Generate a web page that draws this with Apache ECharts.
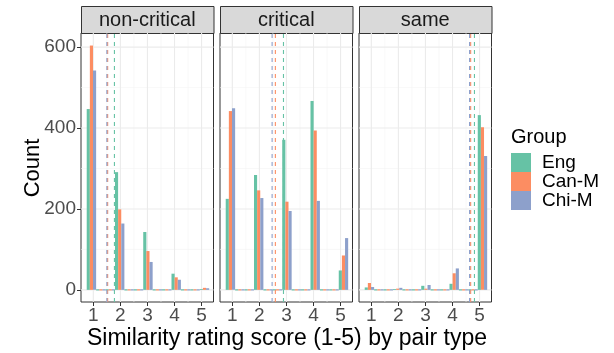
<!DOCTYPE html>
<html><head><meta charset="utf-8">
<script src="https://cdn.jsdelivr.net/npm/echarts@6/dist/echarts.min.js"></script>
<style>html,body{margin:0;padding:0;background:#fff}#c{width:614px;height:353px}</style>
</head><body><div id="c"></div>
<script>
// ---- data ----
const panels = ['non-critical', 'critical', 'same'];
const groups = ['Eng', 'Can-M', 'Chi-M'];
const xTicks = [1, 2, 3, 4, 5];
const xMinor = [1.5, 2.5, 3.5, 4.5];
const yTicks = [0, 200, 400, 600];
const yMinor = [100, 300, 500];

// counts per rating 1..5
const nonCriticalEng = [447, 291, 143, 40, 2];
const nonCriticalCanM = [604, 199, 96, 31, 5];
const nonCriticalChiM = [542, 164, 69, 25, 4];
const criticalEng = [225, 284, 371, 467, 48];
const criticalCanM = [442, 246, 218, 394, 85];
const criticalChiM = [449, 227, 195, 220, 128];
const sameEng = [6, 2, 10, 15, 432];
const sameCanM = [17, 3, 3, 41, 402];
const sameChiM = [7, 5, 12, 53, 331];

// group means (dashed lines): Eng, Can-M, Chi-M
const meanNonCritical = [1.78, 1.53, 1.50];
const meanCritical = [2.89, 2.59, 2.47];
const meanSame = [4.81, 4.67, 4.63];

// histogram binning (data units)
const binStart = 0.756, binWidth = 0.348, binCount = 13, binsPerRating = 3;

// ---- build ----
const countsByPanel = [
  [nonCriticalEng, nonCriticalCanM, nonCriticalChiM],
  [criticalEng, criticalCanM, criticalChiM],
  [sameEng, sameCanM, sameChiM]
];
const meansByPanel = [meanNonCritical, meanCritical, meanSame];
const colors = ['#66C2A5', '#FC8D62', '#8DA0CB'];
const FONT = "'Liberation Sans', Arial, sans-serif";
const gridLefts = [81, 220, 359];
const gridW = 132.5, gridTop = 33, gridH = 269;
const xMin = 0.545, xMax = 5.44, yMin = -30, yMax = 635;
const grids = [], xAxes = [], yAxes = [], series = [], graphics = [];

function barRender(params, api) {
  const x0 = api.value(0), x1 = api.value(1), v = api.value(2);
  const p0 = api.coord([x0, 0]);
  const p1 = api.coord([x1, v]);
  let y = p1[1], h = p0[1] - p1[1];
  if (v === 0) { y = p0[1] - 0.6; h = 1.2; }
  return { type: 'rect', shape: { x: p0[0], y: y, width: p1[0] - p0[0], height: h },
           style: { fill: api.visual('color') } };
}
function lineRender(params, api) {
  const m = api.value(0);
  const a = api.coord([m, yMin]), b = api.coord([m, yMax]);
  return { type: 'line', shape: { x1: a[0], y1: a[1], x2: b[0], y2: b[1] },
           style: { stroke: api.visual('color'), lineWidth: 1.1, lineDash: [4, 4] } };
}
// grid lines: [orientation (0 vertical / 1 horizontal), value, major(1)/minor(0)]
function gridRender(params, api) {
  const kind = api.value(0), v = api.value(1), major = api.value(2);
  const a = kind === 0 ? api.coord([v, yMin]) : api.coord([xMin, v]);
  const b = kind === 0 ? api.coord([v, yMax]) : api.coord([xMax, v]);
  return { type: 'line', shape: { x1: a[0], y1: a[1], x2: b[0], y2: b[1] },
           style: { stroke: major ? '#EBEBEB' : '#F3F3F3', lineWidth: major ? 1.1 : 0.6 } };
}

panels.forEach((p, i) => {
  grids.push({ left: gridLefts[i], top: gridTop, width: gridW, height: gridH,
    show: true, borderColor: '#333333', borderWidth: 1, backgroundColor: '#fff' });
  xAxes.push({ type: 'value', gridIndex: i, min: xMin, max: xMax, position: 'bottom',
    axisLine: { show: false, onZero: false },
    axisTick: { show: true, customValues: xTicks, length: 4, lineStyle: { color: '#333333', width: 1 } },
    axisLabel: { show: true, customValues: xTicks, fontSize: 19, color: '#4D4D4D', margin: 4, fontFamily: FONT },
    splitLine: { show: false } });
  yAxes.push({ type: 'value', gridIndex: i, min: yMin, max: yMax, position: 'left',
    axisLine: { show: false, onZero: false },
    axisTick: { show: i === 0, customValues: yTicks, length: 4, lineStyle: { color: '#333333', width: 1 } },
    axisLabel: { show: i === 0, customValues: yTicks, fontSize: 19, color: '#4D4D4D', margin: 5, fontFamily: FONT },
    splitLine: { show: false } });

  const gridData = xMinor.map(v => [0, v, 0]).concat(yMinor.map(v => [1, v, 0]))
    .concat(xTicks.map(v => [0, v, 1])).concat(yTicks.map(v => [1, v, 1]));
  series.push({ type: 'custom', name: 'grid-lines', xAxisIndex: i, yAxisIndex: i,
    renderItem: gridRender, data: gridData, encode: { x: -1, y: -1 }, clip: true, z: 1, silent: true });

  groups.forEach((g, gi) => {
    const counts = countsByPanel[i][gi];
    const data = [];
    for (let j = 0; j < binCount; j++) {
      const left = binStart + j * binWidth + gi * binWidth / 3;
      const right = left + binWidth / 3;
      const v = (j % binsPerRating === 0) ? counts[j / binsPerRating] : 0;
      data.push([left, right, v]);
    }
    series.push({ type: 'custom', name: g, xAxisIndex: i, yAxisIndex: i,
      renderItem: barRender, itemStyle: { color: colors[gi] }, data: data, clip: true,
      encode: { x: [0, 1], y: 2 }, z: 2, silent: true });
  });
  groups.forEach((g, gi) => {
    series.push({ type: 'custom', name: g, xAxisIndex: i, yAxisIndex: i,
      renderItem: lineRender, itemStyle: { color: colors[gi] }, data: [[meansByPanel[i][gi], 0]],
      encode: { x: 0, y: 1 }, clip: true, z: 3, silent: true });
  });

  graphics.push({ type: 'rect', left: gridLefts[i], top: 6,
    shape: { x: 0, y: 0, width: gridW, height: 27 },
    style: { fill: '#D9D9D9', stroke: '#333333', lineWidth: 1 } });
  graphics.push({ type: 'text', x: gridLefts[i] + gridW / 2, y: 20,
    style: { text: p, font: '20px ' + FONT, fill: '#1A1A1A', textAlign: 'center', textVerticalAlign: 'middle' } });
});

graphics.push({ type: 'text', x: 33, y: 168, rotation: Math.PI / 2,
  style: { text: 'Count', font: '22px ' + FONT, fill: '#000', textAlign: 'center', textVerticalAlign: 'middle' } });
graphics.push({ type: 'text', x: 287, y: 339,
  style: { text: 'Similarity rating score (1-5) by pair type', font: '23px ' + FONT, fill: '#000', textAlign: 'center', textVerticalAlign: 'middle' } });
graphics.push({ type: 'text', x: 511, y: 137,
  style: { text: 'Group', font: '20px ' + FONT, fill: '#000', textAlign: 'left', textVerticalAlign: 'middle' } });

const chart = echarts.init(document.getElementById('c'), null, { renderer: 'canvas' });
chart.setOption({
  animation: false, backgroundColor: '#fff',
  grid: grids, xAxis: xAxes, yAxis: yAxes, series: series,
  legend: { data: groups, orient: 'vertical', left: 511, top: 153, icon: 'rect',
    itemWidth: 20, itemHeight: 19, itemGap: 0, padding: 0,
    textStyle: { fontSize: 19, color: '#000', fontFamily: FONT, lineHeight: 19, padding: [0, 0, 0, 6] } },
  graphic: graphics
});
</script>
</body></html>
